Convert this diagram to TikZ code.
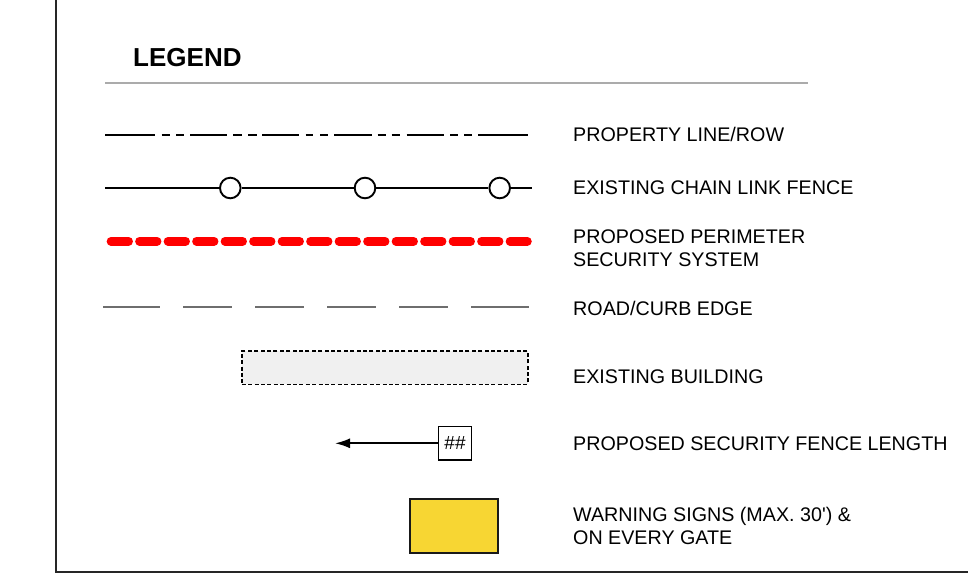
\documentclass[tikz,border=0pt]{standalone}
\usepackage{fontspec}
\setmainfont{Liberation Sans}
\usetikzlibrary{arrows.meta}
\definecolor{signyellow}{HTML}{F7D633}
\definecolor{rulegray}{HTML}{ABABAB}
\definecolor{roadgray}{HTML}{6E6E6E}
\definecolor{bldgfill}{HTML}{F0F0F0}
\tikzset{
  lbl/.style={anchor=base west, inner sep=0pt, font=\fontsize{19.7}{23}\selectfont},
  title/.style={anchor=base west, inner sep=0pt, font=\fontsize{26}{30}\selectfont\bfseries},
  frameline/.style={line width=2pt, draw=black!85},
  propline/.style={line width=2.4pt, black},
  fenceline/.style={line width=1.9pt, black},
  fencepost/.style={circle, draw=black, fill=white, line width=1.9pt, minimum size=20.6pt, inner sep=0pt},
  perim/.style={line width=8.7pt, red, line cap=round, dash pattern=on 17.6pt off 10.9pt},
  road/.style={line width=2.3pt, roadgray},
  bldg/.style={draw=black, fill=bldgfill, line width=1.7pt, dash pattern=on 4pt off 2.4pt, minimum width=286pt, minimum height=33.3pt, inner sep=0pt},
  lenbox/.style={draw=black, fill=white, line width=1.6pt, minimum width=33.3pt, minimum height=33.3pt, inner sep=0pt, font=\fontsize{19}{20}\selectfont},
  signbox/.style={draw=black!90, fill=signyellow, line width=2pt, minimum width=88pt, minimum height=54pt, inner sep=0pt},
}
\begin{document}
\begin{tikzpicture}[x=1pt, y=-1pt]
\useasboundingbox (0,0) rectangle (968,576);
% frame
\draw[frameline] (55.6,0) -- (55.6,571.5) -- (968,571.5);
% title
\node[title] (legend) at (133,66) {LEGEND};
\draw[line width=2.2pt, rulegray] (105,83) -- (808,83);

% row 1: property line
\foreach \a/\b in {105/155,161.7/170,176/184.3,190/227.3,233.3/241.7,248.3/256.7,262.3/299.3,305.7/313.3,320/328,334.3/371.7,377.7/385.7,391.7/400,406.7/444,450/458.3,464/472.3,478.3/528.3}
  \draw[propline] (\a,135) -- (\b,135);
\node[lbl] (t1) at (573,141.5) {PROPERTY LINE/ROW};

% row 2: chain link fence
\coordinate (f0) at (105,188);
\coordinate (f4) at (531.5,188);
\node[fencepost] (p1) at (230.3,188) {};
\node[fencepost] (p2) at (365,188) {};
\node[fencepost] (p3) at (499.7,188) {};
\draw[fenceline] (f0) -- (p1) (p1) -- (p2) (p2) -- (p3) (p3) -- (f4);
\node[lbl] (t2) at (573,194.5) {EXISTING CHAIN LINK FENCE};

% row 3: perimeter security
\draw[perim] (111,241.3) -- (527.4,241.3);
\node[lbl] (t3a) at (573,243) {PROPOSED PERIMETER};
\node[lbl] (t3b) at (573,266) {SECURITY SYSTEM};

% row 4: road/curb edge
\foreach \a/\b in {103/160,183.3/232.3,255/304.3,327/376,399.3/448.3,471/528.7}
  \draw[road] (\a,307.3) -- (\b,307.3);
\node[lbl] (t4) at (573,315) {ROAD/CURB EDGE};

% row 5: existing building
\node[bldg] (bldg) at (384.7,367.7) {};
\node[lbl] (t5) at (573,383) {EXISTING BUILDING};

% row 6: fence length
\node[lenbox] (len) at (455,443.3) {\#\#};
\coordinate (tip) at (335,443.3);
\draw[line width=1.8pt, -{Latex[length=15pt,width=10pt]}] (len.west) -- (tip);
\node[lbl] (t6) at (573,450) {PROPOSED SECURITY FENCE LENGTH};

% row 7: warning signs
\node[signbox] (sign) at (454,526) {};
\node[lbl] (t7a) at (573,521) {WARNING SIGNS (MAX. 30\textquotesingle) \&};
\node[lbl] (t7b) at (573,544) {ON EVERY GATE};
\end{tikzpicture}
\end{document}
